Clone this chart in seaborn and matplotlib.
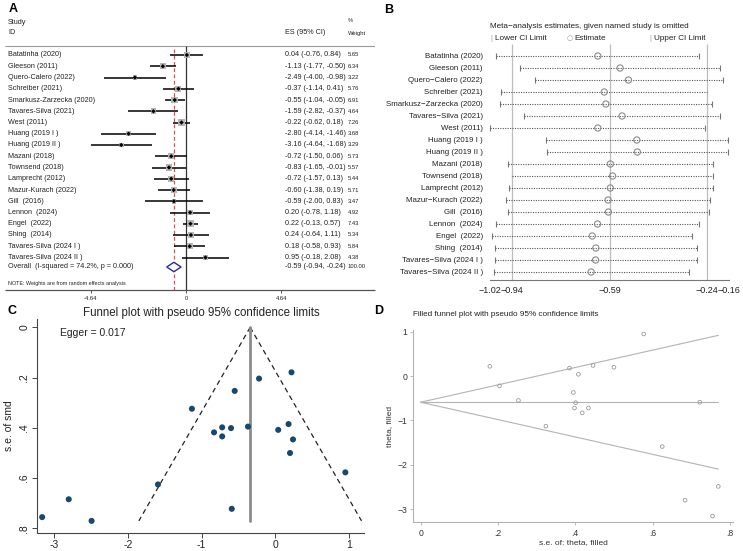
import numpy as np
import pandas as pd
import matplotlib
matplotlib.use("Agg")
import matplotlib.pyplot as plt
import seaborn as sns

sns.set_style("white")
plt.rcParams['font.family'] = ['Liberation Sans', 'DejaVu Sans']

# ---------------- data ----------------
studies = ["Batatinha (2020)", "Gleeson (2011)", "Quero-Calero (2022)", "Schreiber (2021)",
           "Smarkusz-Zarzecka (2020)", "Tavares-Silva (2021)", "West (2011)", "Huang (2019 I )",
           "Huang (2019 II )", "Mazani (2018)", "Townsend (2018)", "Lamprecht (2012)",
           "Mazur-Kurach (2022)", "Gill  (2016)", "Lennon  (2024)", "Engel  (2022)",
           "Shing  (2014)", "Tavares-Silva (2024 I )", "Tavares-Silva (2024 II )"]
studies_b = ["Batatinha (2020)", "Gleeson (2011)", "Quero\u2212Calero (2022)", "Schreiber (2021)",
             "Smarkusz\u2212Zarzecka (2020)", "Tavares\u2212Silva (2021)", "West (2011)", "Huang (2019 I )",
             "Huang (2019 II )", "Mazani (2018)", "Townsend (2018)", "Lamprecht (2012)",
             "Mazur\u2212Kurach (2022)", "Gill  (2016)", "Lennon  (2024)", "Engel  (2022)",
             "Shing  (2014)", "Tavares\u2212Silva (2024 I )", "Tavares\u2212Silva (2024 II )"]
es = np.array([0.04, -1.13, -2.49, -0.37, -0.55, -1.59, -0.22, -2.80, -3.16, -0.72,
               -0.83, -0.72, -0.60, -0.59, 0.20, 0.22, 0.24, 0.18, 0.95])
ci_lo = np.array([-0.76, -1.77, -4.00, -1.14, -1.04, -2.82, -0.62, -4.14, -4.64, -1.50,
                  -1.65, -1.57, -1.38, -2.00, -0.78, -0.13, -0.64, -0.58, -0.18])
ci_hi = np.array([0.84, -0.50, -0.98, 0.41, -0.05, -0.37, 0.18, -1.46, -1.68, 0.06,
                  -0.01, 0.13, 0.19, 0.83, 1.18, 0.57, 1.11, 0.93, 2.08])
weights = np.array([5.65, 6.34, 3.22, 5.76, 6.91, 4.64, 7.26, 3.68, 3.29, 5.73,
                    5.57, 5.44, 5.71, 3.47, 4.92, 7.43, 5.34, 5.84, 4.38])
overall = dict(es=-0.59, lo=-0.94, hi=-0.24, w=100.00)
overall_label = "Overall  (I-squared = 74.2%, p = 0.000)"
forest_ticks = [-4.64, 0, 4.64]

# leave-one-out (panel B)
loo_est = np.array([-0.632, -0.552, -0.522, -0.609, -0.603, -0.545, -0.632, -0.492, -0.490, -0.587,
                    -0.579, -0.587, -0.595, -0.594, -0.633, -0.652, -0.639, -0.640, -0.656])
loo_lo = np.array([-0.997, -0.910, -0.859, -0.979, -0.982, -0.896, -1.018, -0.818, -0.815, -0.953,
                   -0.940, -0.951, -0.963, -0.953, -0.997, -1.010, -1.000, -1.000, -1.004])
loo_hi = np.array([-0.267, -0.195, -0.181, -0.240, -0.222, -0.195, -0.246, -0.165, -0.165, -0.220,
                   -0.217, -0.220, -0.229, -0.233, -0.268, -0.294, -0.276, -0.276, -0.305])
b_ticks = [-1.02, -0.94, -0.59, -0.24, -0.16]
b_lines = [-0.94, -0.59, -0.24]

# funnel (panel C / D)
se = np.array([0.408, 0.324, 0.770, 0.395, 0.253, 0.625, 0.204, 0.684, 0.755, 0.398,
               0.418, 0.434, 0.401, 0.722, 0.500, 0.179, 0.446, 0.385, 0.577])
fixed_es = -0.34
egger_p = 0.017

W, H = 743, 551
fig = plt.figure(figsize=(W / 100, H / 100), dpi=100)


def px_axes(l, t, r, b):
    return fig.add_axes([l / W, 1 - b / H, (r - l) / W, (b - t) / H])


def ftext(x, y, s, **kw):
    fig.text(x / W, 1 - y / H, s, **kw)


# ---------------- Panel A: forest plot ----------------
row_top, row_step = 55, 11.25
yA = lambda px: (px - row_top) / row_step
axA = px_axes(5, 0, 375, 290)
xa0, xa1 = (5 - 186) / 20.5, (375 - 186) / 20.5
axA.set_xlim(xa0, xa1)
axA.set_ylim(yA(290), yA(0))
axA.axis('off')
rows = np.arange(len(studies))
dfA = pd.DataFrame(dict(study=studies, es=es, lo=ci_lo, hi=ci_hi, w=weights, row=rows))

axA.hlines(yA(46), xa0, xa1, color='#9a9a9a', lw=0.8)
axA.hlines(yA(290), xa0, xa1, color='#555555', lw=0.9, clip_on=False)
axA.vlines(0, yA(46), yA(290), color='#333333', lw=0.9)
axA.vlines(overall['es'], yA(49), yA(290), color='#d9534f', lw=0.9, linestyles=(0, (3, 2)))
axA.hlines(dfA.row, dfA.lo, dfA.hi, color='black', lw=1.1)
sns.scatterplot(data=dfA, x='es', y='row', size='w', sizes=(3.4 * weights.min(), 3.4 * weights.max()),
                marker='s', color='#b5b5b5', edgecolor='none', legend=False, ax=axA, zorder=3)
sns.scatterplot(data=dfA, x='es', y='row', marker='D', s=5, color='black', edgecolor='none',
                legend=False, ax=axA, zorder=4)
yo = yA(267)
hh = 0.42
axA.fill([overall['lo'], overall['es'], overall['hi'], overall['es']],
         [yo, yo - hh, yo, yo + hh], facecolor='white', edgecolor='#2a2a9a', lw=1.0, zorder=5)

xlab = (8 - 186) / 20.5
xes = (285 - 186) / 20.5
xw = (348 - 186) / 20.5
fsA = 5.2
axA.text(xlab, yA(22.5), "Study", fontsize=fsA, va='center', color='#222')
axA.text(xlab, yA(33), "ID", fontsize=fsA, va='center', color='#222')
axA.text(xes, yA(33), "ES (95% CI)", fontsize=fsA, va='center', color='#222')
axA.text(xw, yA(21), "%", fontsize=4.2, va='center', color='#222')
axA.text(xw, yA(33), "Weight", fontsize=4.2, va='center', color='#222')
for i, s in enumerate(studies):
    axA.text(xlab, i, s, fontsize=fsA, va='center', color='#222')
    axA.text(xes, i, f"{es[i]:.2f} ({ci_lo[i]:.2f}, {ci_hi[i]:.2f})", fontsize=fsA, va='center', color='#222')
    axA.text(xw, i, f"{weights[i]:.2f}", fontsize=4.2, va='center', color='#222')
axA.text(xlab, yo, overall_label, fontsize=fsA, va='center', color='#222')
axA.text(xes, yo, f"{overall['es']:.2f} ({overall['lo']:.2f}, {overall['hi']:.2f})", fontsize=fsA,
         va='center', color='#222')
axA.text(xw, yo, f"{overall['w']:.2f}", fontsize=4.2, va='center', color='#222')
axA.text(xlab, yA(284), "NOTE: Weights are from random effects analysis", fontsize=3.9, va='center',
         color='#222')
for t in forest_ticks:
    axA.vlines(t, yA(290), yA(293), color='#555555', lw=0.7, clip_on=False)
    axA.text(t, yA(298.5), f"{t:g}" if t == 0 else f"{t:.2f}", fontsize=4.2, ha='center', va='center',
             color='#222')

# ---------------- Panel B: influence analysis ----------------
yB0, yBstep = 56, 12.0
yB = lambda px: (px - yB0) / yBstep
axB = px_axes(489.7, 44, 729.3, 280)
axB.set_xlim(b_ticks[0], b_ticks[-1])
axB.set_ylim(yB(280), yB(44))
dfB = pd.DataFrame(dict(study=studies_b, est=loo_est, lo=loo_lo, hi=loo_hi, row=rows))
axB.vlines(b_lines, yB(44), yB(280), color='#bdbdbd', lw=0.9)
axB.hlines(dfB.row, dfB.lo, dfB.hi, color='#555555', lw=0.8, linestyles=(0, (1, 1.2)))
sns.scatterplot(data=dfB, x='lo', y='row', marker='|', s=16, color='#777777', linewidth=0.8,
                legend=False, ax=axB, clip_on=False)
sns.scatterplot(data=dfB, x='hi', y='row', marker='|', s=16, color='#777777', linewidth=0.8,
                legend=False, ax=axB, clip_on=False)
sns.scatterplot(data=dfB, x='est', y='row', marker='o', s=20, facecolor='none', edgecolor='#8a8a8a',
                linewidth=0.8, legend=False, ax=axB, zorder=4)
for sp in ['top', 'right', 'left']:
    axB.spines[sp].set_visible(False)
axB.spines['bottom'].set_color('#777777')
axB.spines['bottom'].set_linewidth(0.8)
axB.set_xticks(b_ticks)
axB.set_xticklabels([f"{t:.2f}".replace('-', '\u2212') for t in b_ticks])
axB.tick_params(axis='x', length=3, width=0.7, color='#777777', labelsize=6.5, pad=1.5, labelcolor='#222')
axB.set_yticks(rows)
axB.set_yticklabels(studies_b)
axB.tick_params(axis='y', length=0, labelsize=5.7, pad=5, labelcolor='#222')
axB.set_xlabel('')
axB.set_ylabel('')
ftext(589, 26, "Meta\u2212analysis estimates, given named study is omitted", fontsize=5.9,
      ha='center', va='center', color='#222')
ftext(491, 38.5, "|", fontsize=5.5, color='#999999', ha='center', va='center')
ftext(495, 38.5, "Lower CI Limit", fontsize=5.9, ha='left', va='center', color='#222')
ftext(570, 38.5, "\u25cb", fontsize=5, color='#999999', ha='center', va='center', family='DejaVu Sans')
ftext(574, 38.5, "Estimate", fontsize=5.9, ha='left', va='center', color='#222')
ftext(650, 38.5, "|", fontsize=5.5, color='#999999', ha='center', va='center')
ftext(654, 38.5, "Upper CI Limit", fontsize=5.9, ha='left', va='center', color='#222')

# ---------------- Panel C: funnel plot ----------------
axC = px_axes(37, 318.5, 363.8, 532.7)
dfC = pd.DataFrame(dict(es=es, se=se))
se_max = se.max()
se_line = np.array([0, se_max])
axC.plot(fixed_es - 1.96 * se_line, se_line, color='#222222', lw=0.9, ls=(0, (4, 3)))
axC.plot(fixed_es + 1.96 * se_line, se_line, color='#222222', lw=0.9, ls=(0, (4, 3)))
axC.plot([fixed_es, fixed_es], se_line, color='#8c8c8c', lw=2.0)
sns.scatterplot(data=dfC, x='es', y='se', color='#1a476f', s=19, edgecolor='none', legend=False,
                ax=axC, zorder=4, clip_on=False)
axC.set_xlim(-3.23, 1.2)
axC.set_ylim(0.817, -0.035)
for sp in ['top', 'right']:
    axC.spines[sp].set_visible(False)
for sp in ['left', 'bottom']:
    axC.spines[sp].set_color('#444444')
    axC.spines[sp].set_linewidth(0.8)
axC.set_xticks([-3, -2, -1, 0, 1])
axC.set_xticklabels(['-3', '-2', '-1', '0', '1'])
axC.set_yticks([0, 0.2, 0.4, 0.6, 0.8])
axC.set_yticklabels(['0', '.2', '.4', '.6', '.8'], rotation=90, va='center')
axC.tick_params(axis='both', length=3.5, width=0.7, color='#444444', labelsize=7.5, labelcolor='#222',
                pad=2, direction='out', bottom=True, left=True)
axC.set_xlabel('')
axC.set_ylabel('s.e. of smd', fontsize=7.5, color='#222', labelpad=4)
axC.text(-2.92, 0.023, f"Egger = {egger_p:.3f}", fontsize=7.5, va='center', ha='left', color='#222')
ftext(201, 313, "Funnel plot with pseudo 95% confidence limits", fontsize=8.3, ha='center',
      va='center', color='#222')

# ---------------- Panel D: filled funnel plot ----------------
axD = px_axes(413.3, 330, 733, 522.3)
dfD = pd.DataFrame(dict(se=se, theta=es))
axD.plot(se_line, overall['es'] + 1.96 * se_line, color='#b3b3b3', lw=0.8)
axD.plot(se_line, overall['es'] - 1.96 * se_line, color='#b3b3b3', lw=0.8)
axD.plot(se_line, [overall['es'], overall['es']], color='#b3b3b3', lw=0.8)
sns.scatterplot(data=dfD, x='se', y='theta', marker='o', s=7, facecolor='none', edgecolor='#9a9a9a',
                linewidth=0.6, legend=False, ax=axD, zorder=4)
axD.set_xlim(-0.019, 0.808)
axD.set_ylim(-3.3, 1.04)
for sp in ['top', 'right']:
    axD.spines[sp].set_visible(False)
for sp in ['left', 'bottom']:
    axD.spines[sp].set_color('#b0b0b0')
    axD.spines[sp].set_linewidth(0.8)
axD.set_xticks([0, 0.2, 0.4, 0.6, 0.8])
axD.set_xticklabels(['0', '.2', '.4', '.6', '.8'])
axD.set_yticks([-3, -2, -1, 0, 1])
axD.set_yticklabels(['\u22123', '\u22122', '\u22121', '0', '1'])
axD.tick_params(axis='both', length=2.5, width=0.6, color='#b0b0b0', labelsize=6.2, labelcolor='#333',
                pad=2, direction='out', bottom=True, left=True)
axD.set_xlabel('s.e. of: theta, filled', fontsize=6.0, color='#333', labelpad=1)
axD.set_ylabel('theta, filled', fontsize=6.0, color='#333', labelpad=3)
ftext(413, 315, "Filled funnel plot with pseudo 95% confidence limits", fontsize=5.9, ha='left',
      va='center', color='#222')

# panel letters
for lbl, x, y in [("A", 9, 9), ("B", 384, 10), ("C", 7, 311), ("D", 374, 311)]:
    ftext(x, y, lbl, fontsize=9, fontweight='bold', ha='left', va='center', color='black')

fig.savefig("out.png", dpi=100)
